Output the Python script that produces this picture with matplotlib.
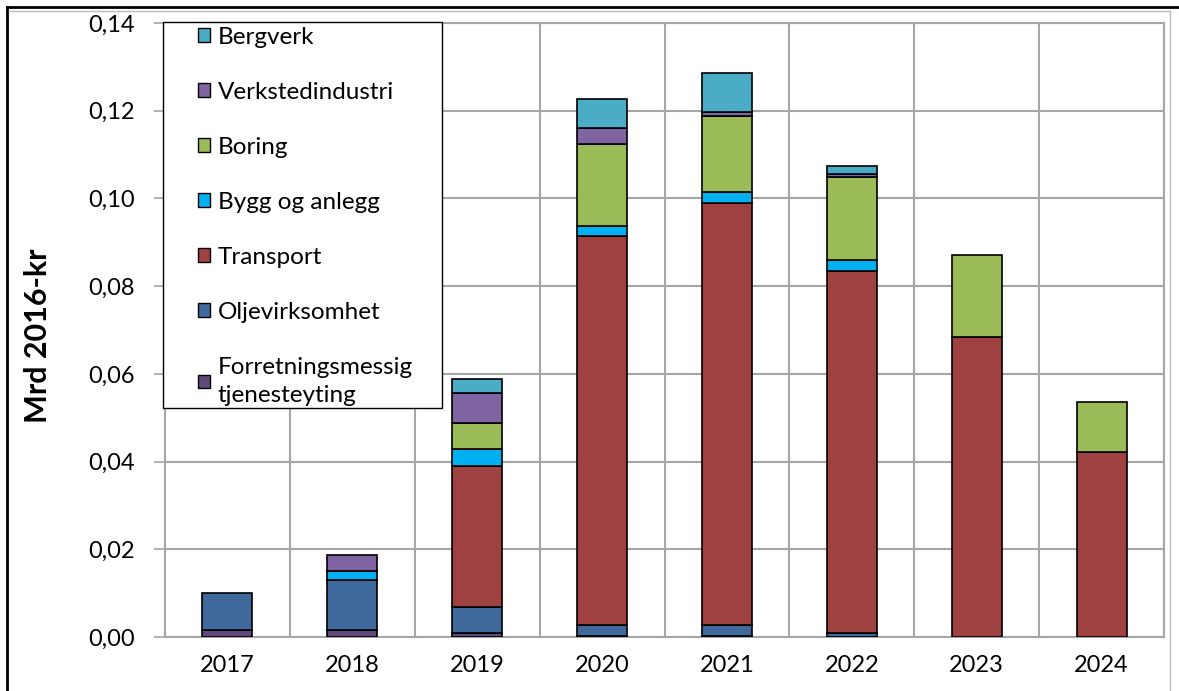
import matplotlib
matplotlib.use("Agg")
import matplotlib.pyplot as plt
import numpy as np
from matplotlib.patches import Rectangle, Patch
from matplotlib.lines import Line2D

plt.rcParams['font.family'] = ['Lato', 'DejaVu Sans']

# data, Mrd 2016-kr
years = ['2017', '2018', '2019', '2020', '2021', '2022', '2023', '2024']
forretning = [0.0015, 0.0016, 0.0008, 0.0003, 0.0003, 0.0, 0.0, 0.0]
olje = [0.0085, 0.0114, 0.0060, 0.0024, 0.0024, 0.0008, 0.0, 0.0]
transport = [0.0, 0.0, 0.0321, 0.0887, 0.0963, 0.0827, 0.0683, 0.0421]
bygg = [0.0, 0.0020, 0.0039, 0.0022, 0.0024, 0.0024, 0.0, 0.0]
boring = [0.0, 0.0, 0.0060, 0.0188, 0.0174, 0.0191, 0.0187, 0.0115]
verksted = [0.0, 0.0037, 0.0069, 0.0037, 0.0010, 0.0006, 0.0, 0.0]
bergverk = [0.0, 0.0, 0.0032, 0.0066, 0.0087, 0.0017, 0.0, 0.0]

series = [
    ('Forretningsmessig\ntjenesteyting', forretning, '#604A7B'),
    ('Oljevirksomhet', olje, '#3F6A9B'),
    ('Transport', transport, '#9E4140'),
    ('Bygg og anlegg', bygg, '#00B0F0'),
    ('Boring', boring, '#9BBB59'),
    ('Verkstedindustri', verksted, '#8064A2'),
    ('Bergverk', bergverk, '#4BACC6'),
]

W, H = 1179, 691
fig = plt.figure(figsize=(W / 100, H / 100), dpi=100)
ax = fig.add_axes([165 / W, 1 - 637 / H, (1164 - 165) / W, (637 - 23) / H])

x = np.arange(len(years))
bottom = np.zeros(len(years))
for name, vals, col in series:
    vals = np.array(vals)
    bars = ax.bar(x, vals, 0.4, bottom=bottom, color=col, edgecolor='black',
                  linewidth=1.2, zorder=3)
    for b, v in zip(bars, vals):
        if v == 0:
            b.set_visible(False)
    bottom += vals

grid_col = '#A6A6A6'
ax.set_xlim(-0.5, len(years) - 0.5)
ax.set_ylim(0, 0.14)
ax.set_yticks(np.arange(0, 0.141, 0.02))
ax.set_yticklabels([f'{v:.2f}'.replace('.', ',') for v in np.arange(0, 0.141, 0.02)])
ax.set_xticks(x)
ax.set_xticklabels(years)
ax.set_xticks(np.arange(-0.5, len(years), 1), minor=True)
ax.yaxis.grid(True, color=grid_col, linewidth=1.5, zorder=0)
ax.xaxis.grid(True, which='minor', color=grid_col, linewidth=1.5, zorder=0)
ax.set_axisbelow(True)
for s in ax.spines.values():
    s.set_color(grid_col)
    s.set_linewidth(1.5)
ax.tick_params(axis='y', length=8, width=1.2, color=grid_col, pad=14, labelsize=17)
ax.tick_params(axis='x', which='major', length=0, pad=13, labelsize=17)
ax.tick_params(axis='x', which='minor', length=0)
ax.set_ylabel('Mrd 2016-kr', fontsize=22, fontweight='bold')
ax.yaxis.set_label_coords(-113 / 999, 0.49)

# legend box
fig.patches.append(Rectangle((163 / W, 1 - 408 / H), (442 - 163) / W, (408 - 22) / H,
                             transform=fig.transFigure, facecolor='white',
                             edgecolor='black', linewidth=1.0, zorder=2))
handles = [Patch(facecolor=c, edgecolor='black', linewidth=1.0, label=n)
           for n, v, c in series[::-1]]
leg = fig.legend(handles=handles, loc='upper left', bbox_to_anchor=(183 / W, 1 - 12 / H),
                 frameon=False, fontsize=17.5, labelspacing=1.40, handlelength=0.5,
                 handleheight=0.5, handletextpad=0.33, borderpad=0.1)
for t in leg.get_texts():
    t.set_linespacing(1.45)

# outer chart border
fig.add_artist(Line2D([7 / W, 1], [1 - 7 / H, 1 - 7 / H], color='black', linewidth=2,
                      transform=fig.transFigure))
fig.add_artist(Line2D([7 / W, 7 / W], [0, 1 - 7 / H], color='black', linewidth=2,
                      transform=fig.transFigure))
fig.add_artist(Line2D([9 / W, 1170 / W], [1 - 10.5 / H, 1 - 10.5 / H], color='#BBBBBB',
                      linewidth=1, transform=fig.transFigure))
fig.add_artist(Line2D([1170 / W, 1170 / W], [0, 1 - 10.5 / H], color='#BBBBBB',
                      linewidth=1, transform=fig.transFigure))

fig.savefig('out.png', dpi=100)
